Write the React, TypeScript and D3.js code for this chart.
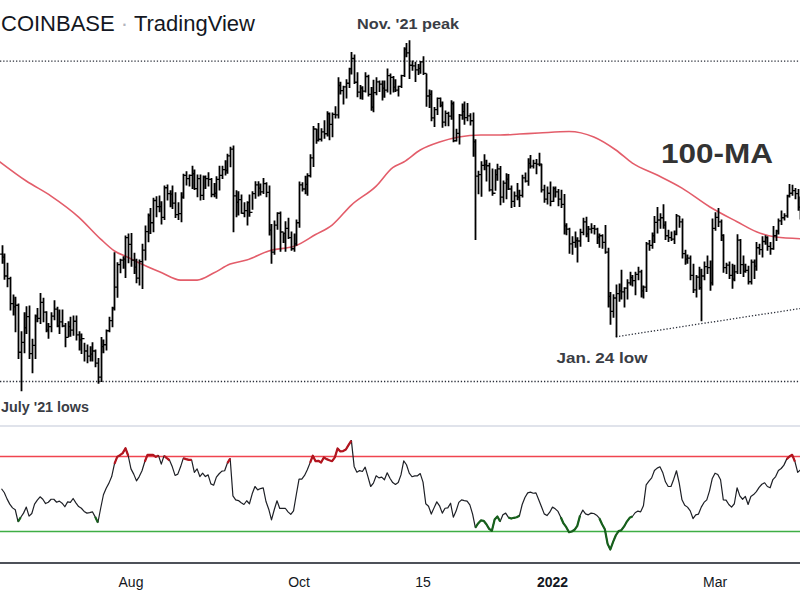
import React from 'react';
import * as d3 from 'd3';

const START_UTC = Date.UTC(2021, 5, 15);
const DAY_MS = 86400000;
const FIRST_OPEN = 40500;

const highs = [
  41350, 40510, 39580, 38220, 36570, 36360, 35760, 33370, 34990, 35520,
  35580, 32740, 34790, 35370, 36720, 36270, 35080, 34070, 34990, 36050,
  35460, 35220, 35220, 34070, 34210, 34590, 34700, 34700, 33370, 33180,
  32420, 32280, 32140, 32470, 31880, 31220, 32900, 32690, 33510, 34590,
  35460, 40640, 39640, 39980, 40240, 42370, 42580, 42650, 40580, 39980,
  39900, 41500, 43440, 44760, 45400, 46550, 46740, 46820, 46160, 48000,
  48120, 47440, 48000, 47200, 46040, 47200, 49450, 49740, 49330, 50450,
  49950, 49330, 49330, 49210, 49210, 49620, 48930, 48320, 49130, 50450,
  50450, 51130, 51980, 52870, 53040, 47440, 47320, 46940, 46040, 46160,
  46940, 47320, 48510, 48510, 48240, 48930, 48390, 48000,
  43600, 44000, 44900, 45000, 42700, 43900, 44300, 42800, 42600, 44100,
  48500, 48400, 49200, 49500, 51900, 55700, 55300, 56100, 55400, 56500,
  57800, 57600, 57600, 58500, 62900, 62200, 61600, 62600, 64400, 67000,
  66600, 63700, 61700, 61500, 63700, 63300, 61400, 62500, 62900, 62400,
  62400, 62400, 64300, 63500, 63100, 62600, 61600, 63300, 67800, 68500,
  69000, 65600, 65400, 65000, 65500, 66300, 63500, 61000, 60900, 58400,
  59800, 59800, 59200, 57900, 57700, 59400, 59200, 55300, 57400, 58900,
  59200, 59000, 57500, 57600, 53900, 49800, 51000, 51900, 51200, 50800,
  50100, 50000, 50700, 50400, 48600, 49500, 49400, 48000, 47300, 48300,
  47500, 49300, 49600, 51400, 51800, 51200, 51300, 52100, 50700, 48100,
  47900, 48500, 47900, 47900, 47600, 47500, 47000, 43700, 43200, 42300,
  42800, 42200, 43100, 44300, 44400, 43400, 43700, 43500, 43200, 42600,
  42500, 43500, 41100, 36800, 36600, 37500, 37600, 38900, 37250, 38000,
  38700, 38400, 38700, 39200, 38900, 37400, 41700, 41900, 42700, 44500,
  45500, 44800, 45800, 43900, 43000, 42800, 42900, 44700, 44500, 44200,
  40900, 40400, 40300, 39500, 38400, 39200, 39000, 39700, 40300, 39800,
  44200, 44900, 45400, 44100, 42500, 39600, 39700, 39500, 39400, 42500,
  42000, 40300, 39500, 39300, 39900, 39900, 41700, 41500, 42300, 42400,
  42300, 41700, 43400, 43000, 44200, 45100, 44800, 46900, 48200, 48100,
  47700, 47600, 46700,
];

const lows = [
  39580, 38030, 37330, 35220, 34790, 33370, 31220, 28800, 31660, 33230,
  31220, 30120, 31220, 34210, 34070, 34210, 33370, 32820, 33370, 34390,
  33790, 33230, 33790, 32140, 32950, 33000, 33080, 32690, 31880, 31610,
  31010, 30880, 31010, 31010, 30570, 29340, 29460, 31660, 31880, 33370,
  33790, 35220, 36360, 38660, 39090, 38210, 39640, 39300, 38600, 37700,
  37500, 37170, 39900, 41770, 42650, 42820, 44450, 45020, 43660, 44170,
  46350, 45580, 45400, 44380, 44170, 43910, 46550, 48120, 48000, 47720,
  47600, 46740, 46350, 46430, 47720, 48000, 46740, 46740, 46550, 47520,
  48930, 49330, 49550, 50360, 42820, 44450, 44650, 44840, 44450, 43550,
  44530, 45290, 46550, 46820, 46940, 47130, 46740, 42470,
  39600, 40500, 43100, 40800, 41700, 40800, 42100, 40900, 40800, 41400,
  43300, 47400, 47100, 46900, 49100, 50400, 53400, 53700, 53700, 54100,
  54400, 53900, 54300, 56900, 56900, 60400, 58900, 59800, 61400, 63500,
  62000, 60000, 59700, 59600, 60700, 60100, 58000, 57800, 60300, 60800,
  59500, 59900, 60700, 60400, 60700, 60800, 60100, 61400, 63100, 66300,
  62800, 64100, 62300, 63400, 63600, 63400, 58600, 58400, 56500, 55700,
  57400, 58500, 55600, 55800, 55800, 56700, 53600, 53700, 53300, 56700,
  56000, 56500, 55900, 51700, 42000, 47100, 46800, 50000, 48600, 47400,
  46900, 47500, 48700, 45800, 46100, 46500, 47600, 45500, 45600, 46400,
  45600, 46700, 48500, 48100, 50200, 50200, 49500, 50500, 47300, 46100,
  45900, 45700, 46200, 46700, 45700, 45500, 42600, 42500, 40600, 40500,
  41200, 39700, 41300, 42500, 42300, 41800, 42700, 42600, 41600, 41200,
  41100, 40600, 35500, 34000, 34600, 32950, 36000, 36200, 35500, 36200,
  37500, 37400, 36600, 38000, 36400, 36300, 36900, 40900, 41100, 41700,
  42700, 43200, 43200, 42000, 41800, 41900, 41600, 42500, 43300, 40100,
  39500, 39600, 38000, 36800, 36400, 37100, 34300, 38000, 38600, 37000,
  37500, 43000, 43400, 41900, 38700, 38600, 38100, 37200, 37900, 38600,
  38600, 38300, 38700, 37600, 37600, 38100, 38900, 40500, 40200, 41500,
  40900, 40500, 41000, 41900, 42600, 43600, 44100, 44400, 46700, 46900,
  46500, 45200, 44200,
];

const closes = [
  40200, 38350, 38100, 35800, 35500, 35650, 31700, 32500, 33700, 34650,
  31600, 32250, 34700, 34500, 35900, 35050, 33500, 33800, 34700, 35300,
  33850, 34200, 33850, 32900, 33800, 33500, 34250, 33100, 32700, 32800,
  31800, 31400, 31550, 31800, 30850, 29800, 32150, 32300, 33450, 34300,
  35400, 37300, 39450, 39900, 40000, 42200, 41500, 39900, 39200, 38150,
  39750, 40900, 42850, 44600, 43800, 46300, 45600, 45600, 44400, 47800,
  47100, 47050, 46000, 44700, 44800, 46700, 49300, 48900, 49300, 49500,
  47700, 48900, 46900, 49100, 48900, 48800, 47000, 47150, 48800, 49300,
  50000, 49900, 51750, 52650, 46850, 46100, 46400, 44850, 45150, 46050,
  44950, 47100, 48150, 47750, 47300, 48300, 47250, 43000,
  40700, 43550, 44850, 42800, 42650, 43200, 42200, 41050, 41550, 43800,
  48150, 47650, 48200, 49250, 51500, 55350, 53800, 53950, 54950, 54700,
  57500, 56000, 57400, 57350, 61700, 60900, 61500, 62050, 64300, 66000,
  62200, 60700, 61300, 60850, 63100, 60350, 58450, 60600, 62250, 61900,
  61300, 61000, 63250, 62950, 61450, 61000, 61550, 63250, 67550, 66950,
  64900, 64800, 64150, 64400, 65450, 63600, 60100, 60350, 56900, 58100,
  59750, 58700, 56300, 57550, 57150, 58950, 53750, 54750, 57300, 57800,
  56950, 57200, 56500, 53600, 49200, 49400, 50550, 50600, 50500, 47550,
  47150, 49400, 50100, 46700, 48350, 48850, 47650, 46200, 46850, 46700,
  46900, 49000, 48600, 50800, 50450, 50800, 50700, 50700, 47550, 46450,
  47150, 46200, 47700, 47300, 46450, 45850, 43450, 43100, 41550, 41700,
  41900, 41850, 42750, 43900, 42600, 43100, 43200, 43100, 42250, 42400,
  41700, 40700, 36450, 35100, 36300, 36700, 36950, 36850, 37200, 37700,
  38200, 37900, 38500, 38750, 36950, 37300, 41550, 41400, 42400, 43850,
  44100, 44350, 43550, 42400, 42200, 42050, 42550, 44550, 43900, 40550,
  40000, 40100, 38400, 37050, 38250, 37250, 38350, 39250, 39150, 37700,
  43200, 44400, 43900, 42450, 39150, 39400, 38400, 38050, 38750, 41950,
  39450, 38800, 38900, 37800, 39700, 39300, 41150, 40950, 41800, 42200,
  41300, 41050, 42400, 42900, 44000, 44350, 44550, 46850, 47150, 47450,
  47100, 45550, 46300,
];

const rsiValues = [
  52.8, 50.8, 47.4, 44.6, 42.6, 41.6, 35.3, 37.6, 39.8, 43.0,
  38.2, 39.6, 44.6, 46.7, 48.5, 47.2, 44.9, 45.6, 47.2, 47.2,
  45.6, 46.2, 45.1, 43.2, 45.8, 45.5, 47.6, 45.3, 43.3, 42.4,
  40.7, 39.8, 40.1, 40.5, 37.8, 34.8, 42.4, 49.6, 53.1, 55.8,
  59.3, 66.1, 69.8, 70.7, 71.8, 74.4, 70.4, 63.4, 60.6, 57.0,
  59.3, 62.4, 67.2, 70.9, 70.9, 70.9, 69.8, 70.5, 65.9, 70.4,
  69.1, 68.0, 64.5, 59.9, 60.6, 64.5, 69.1, 68.6, 68.2, 68.2,
  61.5, 63.4, 59.3, 61.1, 59.3, 60.2, 55.4, 54.7, 59.0, 60.8,
  62.2, 62.4, 66.5, 68.9, 49.0, 46.9, 46.5, 45.3, 44.4, 46.4,
  44.8, 50.1, 54.0, 52.2, 52.9, 53.3, 46.0, 41.9, 36.2, 41.6,
  46.4, 42.3, 42.3, 42.4, 40.5, 39.1, 41.0, 49.6, 57.9, 57.9,
  59.9, 62.9, 66.6, 70.4, 67.5, 67.7, 66.8, 69.5, 68.6, 68.0,
  67.5, 69.5, 74.3, 72.7, 72.9, 73.7, 76.2, 78.5, 64.7, 61.6,
  62.5, 62.0, 64.3, 59.3, 54.0, 55.8, 59.7, 58.6, 59.0, 57.6,
  61.3, 58.4, 56.1, 55.1, 56.1, 60.2, 67.7, 65.6, 61.1, 59.2,
  59.7, 59.7, 60.9, 56.3, 44.8, 43.5, 39.3, 42.6, 45.8, 43.7,
  39.8, 42.4, 42.6, 45.1, 37.6, 40.9, 45.5, 46.9, 46.5, 46.2,
  44.2, 39.3, 32.1, 34.3, 35.9, 35.7, 33.9, 31.4, 30.4, 36.4,
  38.0, 35.3, 38.9, 39.8, 37.5, 36.9, 37.3, 37.6, 38.4, 44.4,
  48.1, 50.6, 51.0, 50.4, 50.6, 46.9, 43.2, 39.4, 38.5, 40.3,
  43.0, 42.1, 40.7, 37.6, 34.3, 32.3, 29.6, 30.0, 30.9, 33.0,
  38.5, 41.4, 39.4, 38.9, 39.8, 39.6, 38.7, 37.1, 33.9, 31.2,
  23.4, 20.4, 24.5, 28.0, 30.2, 30.7, 32.7, 35.3, 37.3, 38.0,
  40.0, 40.9, 40.5, 43.7, 54.9, 56.9, 58.6, 62.5, 63.8, 64.5,
  61.5, 56.5, 54.0, 54.0, 57.9, 62.4, 55.8, 46.9, 44.0, 43.0,
  41.0, 36.9, 38.9, 39.3, 43.0, 45.5, 46.9, 51.7, 58.3, 61.1,
  60.4, 57.6, 46.9, 46.7, 44.4, 43.0, 44.8, 53.3, 49.0, 47.2,
  48.7, 44.4, 48.7, 49.7, 51.3, 53.5, 55.2, 56.0, 54.0, 53.3,
  57.7, 59.3, 62.5, 63.6, 65.4, 68.6, 70.0, 70.9, 67.3, 61.5,
  62.9,
];

const maDayIdx = [-1, 9, 18, 28, 36, 41, 46, 50, 58, 65, 71, 77, 83, 89, 97, 107, 114, 120, 127, 136, 142, 146, 152, 159, 166, 174, 181, 188, 195, 206, 215, 223, 229, 238, 247, 257, 267, 274, 281, 291];
const maValues = [51100, 48610, 46820, 44430, 42050, 40820, 40160, 39610, 38680, 37960, 37960, 38630, 39510, 39910, 40820, 41380, 42530, 43550, 45780, 48000, 50270, 50970, 52520, 53580, 54250, 54520, 54520, 54660, 54800, 55000, 54250, 52520, 50840, 49340, 47760, 45590, 43910, 42830, 42270, 42080];

const tickDates = ['2021-08-01', '2021-10-01', '2021-11-15', '2022-01-01', '2022-03-01'];
const tickLabels = ['Aug', 'Oct', '15', '2022', 'Mar'];
const tickBold = [false, false, false, true, false];

const peakLevel = 65580;
const lowsLevel = 29470;
const trendDayIdx = [223, 291];
const trendValues = [32950, 35400];

const RSI_OB = 70;
const RSI_OS = 30;

const dayDate = (i: number) => new Date(START_UTC + i * DAY_MS);

export default function App() {
  const x = d3.scaleUtc().domain([dayDate(0), dayDate(290)]).range([1.5, 1.5 + 290 * 2.755]);
  const y = d3.scaleLog().domain([28800, 69000]).range([390.7, 40.7]);
  const ry = d3.scaleLinear().domain([RSI_OS, RSI_OB]).range([531.5, 456.5]);

  // OHLC bars
  const bars = d3.path();
  const ticks = d3.path();
  highs.forEach((h, i) => {
    const cx = Math.round(x(dayDate(i))) + 0.5;
    const open = i === 0 ? FIRST_OPEN : closes[i - 1];
    bars.moveTo(cx, y(h) - 0.5);
    bars.lineTo(cx, y(lows[i]) + 0.5);
    ticks.moveTo(cx - 2.4, y(open));
    ticks.lineTo(cx, y(open));
    ticks.moveTo(cx, y(closes[i]));
    ticks.lineTo(cx + 2.4, y(closes[i]));
  });

  const maLine = d3
    .line<number>()
    .x((d, i) => x(dayDate(maDayIdx[i])))
    .y((d) => y(d))
    .curve(d3.curveMonotoneX)(maValues);

  const rsiLine = d3
    .line<number>()
    .x((d, i) => x(dayDate(i)))
    .y((d) => ry(d));
  const rsiPath = rsiLine(rsiValues);
  const rsiHot = d3
    .line<number>()
    .defined((d) => d >= 66)
    .x((d, i) => x(dayDate(i)))
    .y((d) => ry(d))(rsiValues);
  const rsiCold = d3
    .line<number>()
    .defined((d) => d <= 38.5)
    .x((d, i) => x(dayDate(i)))
    .y((d) => ry(d))(rsiValues);

  const trend = d3
    .line<number>()
    .x((d, i) => x(dayDate(trendDayIdx[i])))
    .y((d) => y(d))(trendValues);

  const labelFont = '"Liberation Sans", Arial, Helvetica, sans-serif';

  return (
    <svg
      width={800}
      height={600}
      style={{ position: 'absolute', left: 0, top: 0, background: '#ffffff' }}
      fontFamily={labelFont}
    >
      <rect x={0} y={0} width={800} height={600} fill="#ffffff" />
      <defs>
        <clipPath id="pricePane">
          <rect x={0} y={34} width={800} height={390} />
        </clipPath>
        <clipPath id="rsiPane">
          <rect x={0} y={428} width={800} height={134} />
        </clipPath>
      </defs>

      {/* header */}
      <text x={1} y={31} fontSize={22} fill="#131722" textLength={254} lengthAdjust="spacingAndGlyphs">
        COINBASE
        <tspan fill="#b2b5be"> · </tspan>
        TradingView
      </text>

      {/* level lines */}
      <line x1={0} x2={800} y1={y(peakLevel)} y2={y(peakLevel)} stroke="#2a2e39" strokeWidth={1.3} strokeDasharray="1.3 1.9" />
      <line x1={0} x2={800} y1={y(lowsLevel)} y2={y(lowsLevel)} stroke="#2a2e39" strokeWidth={1.3} strokeDasharray="1.3 1.9" />
      <path d={trend || ''} stroke="#2a2e39" strokeWidth={1.3} strokeDasharray="1.3 1.9" fill="none" />

      <g clipPath="url(#pricePane)">
        <path d={maLine || ''} fill="none" stroke="#e35d6a" strokeWidth={1.6} />
        <path d={bars.toString()} stroke="#000000" strokeWidth={1.8} fill="none" />
        <path d={ticks.toString()} stroke="#000000" strokeWidth={1.3} fill="none" />
      </g>

      {/* annotations */}
      <text x={408} y={29} fontSize={15} fontWeight="bold" textAnchor="middle" fill="#3a3d45" textLength={102} lengthAdjust="spacingAndGlyphs">Nov. '21 peak</text>
      <text x={1} y={412} fontSize={15} fontWeight="bold" fill="#3a3d45" textLength={88} lengthAdjust="spacingAndGlyphs">July '21 lows</text>
      <text x={602} y={363} fontSize={15} fontWeight="bold" textAnchor="middle" fill="#3a3d45" textLength={91} lengthAdjust="spacingAndGlyphs">Jan. 24 low</text>
      <text x={717} y={163} fontSize={28} fontWeight="bold" textAnchor="middle" fill="#333333" textLength={112} lengthAdjust="spacingAndGlyphs">100-MA</text>

      {/* pane separator */}
      <line x1={0} x2={800} y1={426} y2={426} stroke="#e0e3eb" strokeWidth={2} />

      {/* RSI pane */}
      <line x1={0} x2={800} y1={ry(RSI_OB)} y2={ry(RSI_OB)} stroke="#f0444f" strokeWidth={1.3} />
      <line x1={0} x2={800} y1={ry(RSI_OS)} y2={ry(RSI_OS)} stroke="#3fae44" strokeWidth={1.3} />
      <g clipPath="url(#rsiPane)">
        <path d={rsiPath || ''} fill="none" stroke="#1e2026" strokeWidth={1.2} strokeLinejoin="round" />
        <path d={rsiHot || ''} fill="none" stroke="#b3151f" strokeWidth={2.2} strokeLinejoin="round" />
        <path d={rsiCold || ''} fill="none" stroke="#17601c" strokeWidth={2.2} strokeLinejoin="round" />
      </g>

      {/* time axis */}
      <line x1={0} x2={800} y1={563} y2={563} stroke="#131722" strokeWidth={1.6} />
      {tickDates.map((t, i) => (
        <text
          key={t}
          x={x(new Date(t + 'T00:00:00Z'))}
          y={587}
          fontSize={14}
          textAnchor="middle"
          fontWeight={tickBold[i] ? 'bold' : 'normal'}
          fill="#131722"
        >
          {tickLabels[i]}
        </text>
      ))}
    </svg>
  );
}
